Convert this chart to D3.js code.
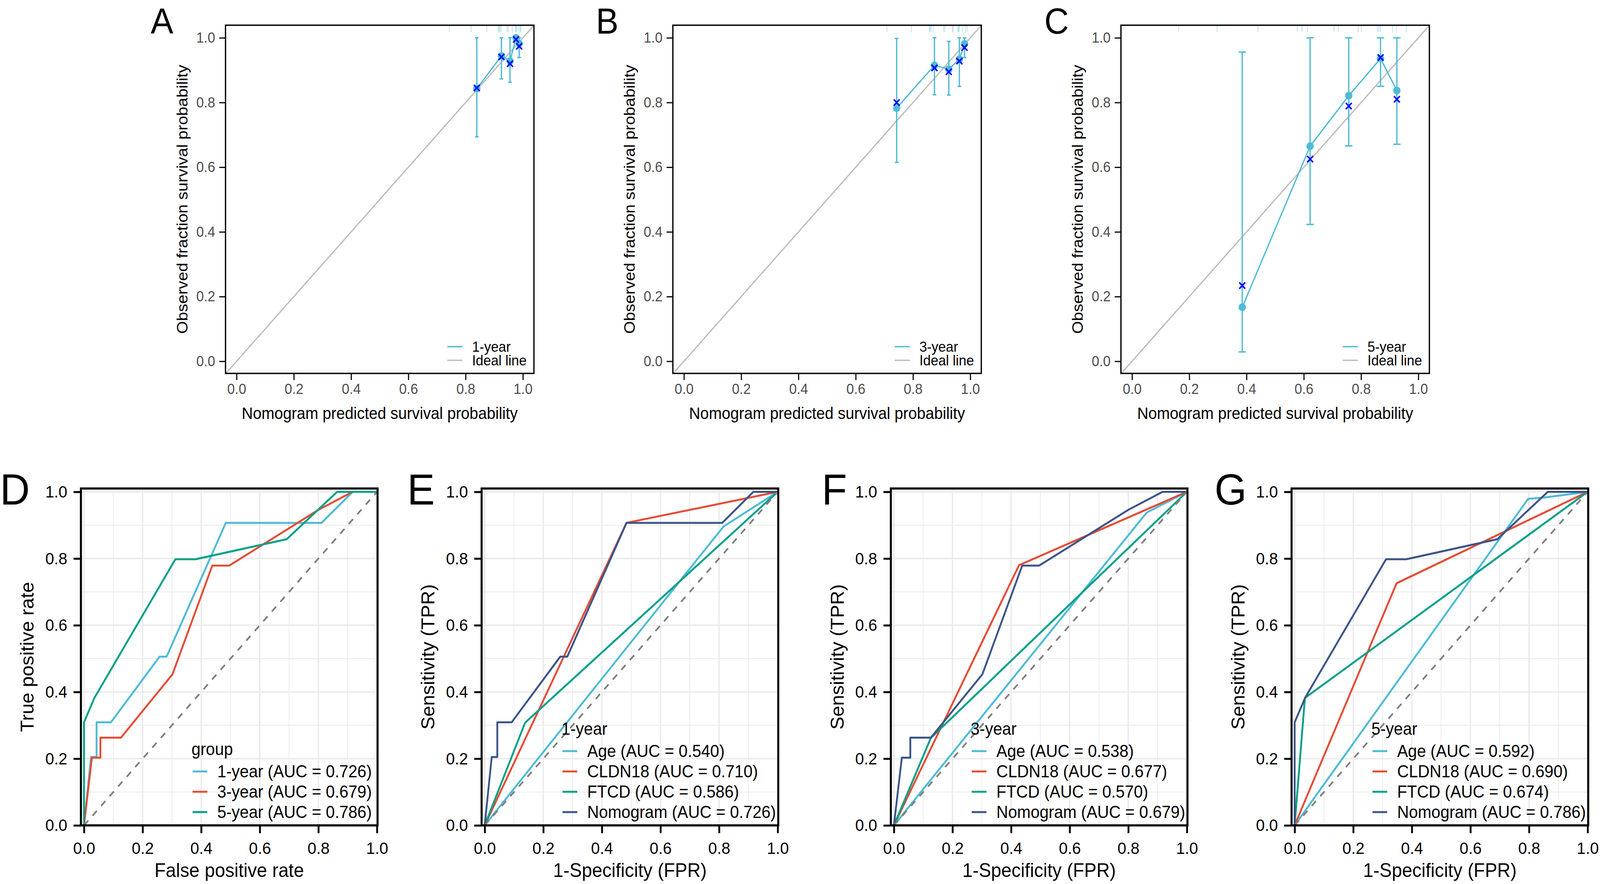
<!DOCTYPE html>
<html>
<head>
<meta charset="utf-8">
<script src="https://cdn.jsdelivr.net/npm/d3@7"></script>
<style>
  html, body { margin: 0; padding: 0; background: #fff; overflow: hidden; }
  #fig { display: block; width: 100vw; height: 100vh; }
  svg text { font-family: "Liberation Sans", Arial, Helvetica, sans-serif; }
</style>
</head>
<body>
<svg id="fig"></svg>
<script>
const width = 4342, height = 2262;

// ---------- calibration data (A, B, C) ----------
const calTicks = [0, 0.2, 0.4, 0.6, 0.8, 1.0];

const cal1Pred = [0.839, 0.925, 0.955, 0.976, 0.987];
const cal1Obs  = [0.843, 0.944, 0.928, 1.000, 0.982];
const cal1Km   = [0.845, 0.941, 0.920, 0.995, 0.974];
const cal1Lo   = [0.694, 0.873, 0.863, 1.000, 0.939];
const cal1Hi   = [1.000, 1.000, 1.000, 1.000, 1.000];
const cal1Rug  = [0.743, 0.819, 0.874, 0.914, 0.917, 0.920, 0.924, 0.945, 0.949,
                  0.963, 0.974, 0.976, 0.979, 0.985, 0.990, 0.993];

const cal3Pred = [0.743, 0.875, 0.925, 0.962, 0.980];
const cal3Obs  = [0.783, 0.915, 0.903, 0.934, 0.981];
const cal3Km   = [0.800, 0.907, 0.895, 0.928, 0.970];
const cal3Lo   = [0.615, 0.824, 0.823, 0.850, 0.939];
const cal3Hi   = [0.998, 1.000, 0.989, 1.000, 1.000];
const cal3Rug  = [0.709, 0.794, 0.857, 0.860, 0.864, 0.870, 0.907, 0.911, 0.937,
                  0.940, 0.957, 0.959, 0.962, 0.974, 0.983, 0.989];

const cal5Pred = [0.385, 0.622, 0.757, 0.868, 0.925];
const cal5Obs  = [0.167, 0.665, 0.821, 0.936, 0.837];
const cal5Km   = [0.234, 0.625, 0.789, 0.939, 0.810];
const cal5Lo   = [0.029, 0.423, 0.666, 0.850, 0.671];
const cal5Hi   = [0.956, 1.000, 1.000, 1.000, 1.000];
const cal5Rug  = [0.163, 0.297, 0.440, 0.577, 0.594, 0.613, 0.705, 0.720, 0.790,
                  0.801, 0.857, 0.862, 0.868, 0.910, 0.923, 0.958];

// ---------- ROC data (D, E, F, G): [FPR, TPR] ----------
const rocTicks = [0, 0.2, 0.4, 0.6, 0.8, 1.0];

const roc1yr = [[0,0],[0.024,0.205],[0.043,0.205],[0.043,0.309],[0.092,0.309],[0.258,0.506],
                [0.282,0.506],[0.484,0.907],[0.811,0.907],[0.917,1],[1,1]];
const roc3yr = [[0,0],[0.027,0.203],[0.056,0.203],[0.056,0.263],[0.126,0.263],[0.302,0.453],
                [0.438,0.779],[0.496,0.779],[0.800,0.946],[0.917,1],[1,1]];
const roc5yr = [[0,0],[0,0.309],[0.036,0.383],[0.312,0.798],[0.381,0.798],[0.692,0.858],
                [0.864,1],[1,1]];

const ageE  = [[0,0],[0.815,0.896],[1,1]];
const cldnE = [[0,0],[0.484,0.907],[1,1]];
const ftcdE = [[0,0],[0.138,0.308],[1,1]];

const ageF  = [[0,0],[0.863,0.938],[1,1]];
const cldnF = [[0,0],[0.427,0.780],[1,1]];
const ftcdF = [[0,0],[0.126,0.262],[1,1]];

const ageG  = [[0,0],[0.797,0.979],[0.853,0.983],[1,1]];
const cldnG = [[0,0],[0.348,0.726],[1,1]];
const ftcdG = [[0,0],[0.035,0.382],[1,1]];

const groupLabels = ["1-year", "3-year", "5-year"];
const groupAuc    = [0.726, 0.679, 0.786];
const markerNames = ["Age", "CLDN18", "FTCD", "Nomogram"];
const aucE = [0.540, 0.710, 0.586, 0.726];
const aucF = [0.538, 0.677, 0.570, 0.679];
const aucG = [0.592, 0.690, 0.674, 0.786];

const npg = ["#4DBBD5", "#E64B35", "#00A087", "#3C5488"];

// drawn in 4342 x 2262 units, stretched to fill the viewport
const svg = d3.select("#fig")
    .attr("viewBox", `0 0 ${width} ${height}`)
    .attr("preserveAspectRatio", "none");

svg.append("rect").attr("width", width).attr("height", height).attr("fill", "#fff");

const fmt = d3.format(".1f");

// ---------- calibration panels ----------
function drawCal(p) {
    const top = 64.5, bottom = 955.5, w = 837;
    const g = svg.append("g");
    const x = d3.scaleLinear().domain([-0.0386, 1.0386]).range([p.left, p.left + w]);
    const y = d3.scaleLinear().domain([-0.0375, 1.039]).range([bottom, top]);

    const clipId = "clip-" + p.letter;
    svg.append("clipPath").attr("id", clipId)
        .append("rect").attr("x", p.left).attr("y", top).attr("width", w).attr("height", bottom - top);

    // ideal line
    g.append("line")
        .attr("clip-path", `url(#${clipId})`)
        .attr("x1", x(-0.05)).attr("y1", y(-0.05))
        .attr("x2", x(1.05)).attr("y2", y(1.05))
        .attr("stroke", "#bebebe").attr("stroke-width", 3.5);

    // rug of predicted values along the top
    g.selectAll(".rug").data(p.rug).join("line")
        .attr("x1", d => x(d)).attr("x2", d => x(d))
        .attr("y1", top).attr("y2", top + 18)
        .attr("stroke", "#a9dcea").attr("stroke-width", 1.6);

    const pts = p.pred.map((d, i) => ({ x: d, obs: p.obs[i], km: p.km[i], lo: p.lo[i], hi: p.hi[i] }));

    // error bars
    const eb = g.selectAll(".eb").data(pts).join("g").attr("stroke", npg[0]).attr("stroke-width", 3.5);
    eb.append("line").attr("x1", d => x(d.x)).attr("x2", d => x(d.x))
        .attr("y1", d => y(d.lo)).attr("y2", d => y(d.hi));
    eb.append("line").attr("x1", d => x(d.x) - p.cap).attr("x2", d => x(d.x) + p.cap)
        .attr("y1", d => y(d.lo)).attr("y2", d => y(d.lo));
    eb.append("line").attr("x1", d => x(d.x) - p.cap).attr("x2", d => x(d.x) + p.cap)
        .attr("y1", d => y(d.hi)).attr("y2", d => y(d.hi));

    g.append("path")
        .attr("d", d3.line().x(d => x(d.x)).y(d => y(d.obs))(pts))
        .attr("fill", "none").attr("stroke", npg[0]).attr("stroke-width", 3.5);

    g.selectAll(".pt").data(pts).join("circle")
        .attr("cx", d => x(d.x)).attr("cy", d => y(d.obs)).attr("r", 10)
        .attr("fill", npg[0]);

    g.selectAll(".km").data(pts).join("path")
        .attr("transform", d => `translate(${x(d.x)},${y(d.km)})`)
        .attr("d", "M-8,-8L8,8M-8,8L8,-8")
        .attr("stroke", "#0000FF").attr("stroke-width", 4).attr("fill", "none");

    // box
    g.append("rect").attr("x", p.left).attr("y", top).attr("width", w).attr("height", bottom - top)
        .attr("fill", "none").attr("stroke", "#000").attr("stroke-width", 3.5);

    // axes
    g.append("g").attr("transform", `translate(0,${bottom})`)
        .call(d3.axisBottom(x).tickValues(calTicks).tickFormat(fmt).tickSize(17).tickPadding(9))
        .call(a => a.select(".domain").remove())
        .call(a => a.selectAll("line").attr("stroke", "#000").attr("stroke-width", 3))
        .call(a => a.selectAll("text").attr("fill", "#4d4d4d").attr("font-size", 37));

    g.append("g").attr("transform", `translate(${p.left},0)`)
        .call(d3.axisLeft(y).tickValues(calTicks).tickFormat(fmt).tickSize(17).tickPadding(11))
        .call(a => a.select(".domain").remove())
        .call(a => a.selectAll("line").attr("stroke", "#000").attr("stroke-width", 3))
        .call(a => a.selectAll("text").attr("fill", "#4d4d4d").attr("font-size", 37));

    g.append("text")
        .attr("x", p.left + w / 2).attr("y", 1072)
        .attr("text-anchor", "middle").attr("font-size", 42)
        .text("Nomogram predicted survival probability");

    g.append("text")
        .attr("transform", `translate(${p.left - 103},${(top + bottom) / 2}) rotate(-90)`)
        .attr("text-anchor", "middle").attr("font-size", 42)
        .text("Observed fraction survival probability");

    // legend
    const leg = [{ label: p.label, color: npg[0] }, { label: "Ideal line", color: "#bebebe" }];
    leg.forEach((d, i) => {
        const cy = 887 + i * 35;
        g.append("line").attr("x1", p.left + 602).attr("x2", p.left + 643)
            .attr("y1", cy).attr("y2", cy).attr("stroke", d.color).attr("stroke-width", 3.5);
        g.append("text").attr("x", p.left + 669).attr("y", cy).attr("dy", "0.35em")
            .attr("font-size", 37).text(d.label);
    });

    svg.append("text").attr("x", p.letterX).attr("y", 86)
        .attr("font-size", 92).text(p.letter);
}

drawCal({ letter: "A", letterX: 409, left: 612, label: "1-year", cap: 5,
          pred: cal1Pred, obs: cal1Obs, km: cal1Km, lo: cal1Lo, hi: cal1Hi, rug: cal1Rug });
drawCal({ letter: "B", letterX: 1617, left: 1826, label: "3-year", cap: 5,
          pred: cal3Pred, obs: cal3Obs, km: cal3Km, lo: cal3Lo, hi: cal3Hi, rug: cal3Rug });
drawCal({ letter: "C", letterX: 2834, left: 3042, label: "5-year", cap: 10,
          pred: cal5Pred, obs: cal5Obs, km: cal5Km, lo: cal5Lo, hi: cal5Hi, rug: cal5Rug });

// ---------- ROC panels ----------
function drawRoc(p) {
    const top = 1250, bottom = 2112, w = 805;
    const g = svg.append("g");
    const x = d3.scaleLinear().domain([-0.0105, 1.002]).range([p.left, p.left + w]);
    const y = d3.scaleLinear().domain([0, 1.01]).range([bottom, top]);

    // grid
    const grid = d3.range(0, 11).map(i => i / 10);
    g.selectAll(".gx").data(grid).join("line")
        .attr("x1", d => x(d)).attr("x2", d => x(d)).attr("y1", top).attr("y2", bottom)
        .attr("stroke", "#ebebeb").attr("stroke-width", (d, i) => i % 2 ? 2 : 3.8);
    g.selectAll(".gy").data(grid).join("line")
        .attr("y1", d => y(d)).attr("y2", d => y(d)).attr("x1", p.left).attr("x2", p.left + w)
        .attr("stroke", "#ebebeb").attr("stroke-width", (d, i) => i % 2 ? 2 : 3.8);

    const line = d3.line().x(d => x(d[0])).y(d => y(d[1]));
    p.curves.forEach((c, i) => {
        g.append("path").attr("d", line(c)).attr("fill", "none")
            .attr("stroke", p.colors[i]).attr("stroke-width", 5)
            .attr("stroke-linejoin", "round");
    });

    g.append("line")
        .attr("x1", x(0)).attr("y1", y(0)).attr("x2", x(1)).attr("y2", y(1))
        .attr("stroke", "#7f7f7f").attr("stroke-width", 4.5).attr("stroke-dasharray", "17,17");

    g.append("rect").attr("x", p.left).attr("y", top).attr("width", w).attr("height", bottom - top)
        .attr("fill", "none").attr("stroke", "#000").attr("stroke-width", 5.5);

    g.append("g").attr("transform", `translate(0,${bottom})`)
        .call(d3.axisBottom(x).tickValues(rocTicks).tickFormat(fmt).tickSize(20).tickPadding(22))
        .call(a => a.select(".domain").remove())
        .call(a => a.selectAll("line").attr("stroke", "#000").attr("stroke-width", 5))
        .call(a => a.selectAll("text").attr("fill", "#000").attr("font-size", 43));

    g.append("g").attr("transform", `translate(${p.left},0)`)
        .call(d3.axisLeft(y).tickValues(rocTicks).tickFormat(fmt).tickSize(20).tickPadding(17))
        .call(a => a.select(".domain").remove())
        .call(a => a.selectAll("line").attr("stroke", "#000").attr("stroke-width", 5))
        .call(a => a.selectAll("text").attr("fill", "#000").attr("font-size", 43));

    g.append("text")
        .attr("x", p.left + w / 2).attr("y", 2244)
        .attr("text-anchor", "middle").attr("font-size", 50)
        .text(p.xTitle);

    g.append("text")
        .attr("transform", `translate(${p.left - 128},${(top + bottom) / 2}) rotate(-90)`)
        .attr("text-anchor", "middle").attr("font-size", 50)
        .text(p.yTitle);

    // legend, bottom aligned
    const keyX = p.left + p.legendOffset;
    const n = p.labels.length;
    p.labels.forEach((lab, i) => {
        const cy = 2078 - (n - 1 - i) * 52;
        g.append("line").attr("x1", keyX).attr("x2", keyX + 40)
            .attr("y1", cy).attr("y2", cy).attr("stroke", p.colors[i]).attr("stroke-width", 5);
        g.append("text").attr("x", keyX + 67).attr("y", cy).attr("dy", "0.35em")
            .attr("font-size", 44).text(lab);
    });
    g.append("text").attr("x", keyX - 3).attr("y", 2078 - (n - 1) * 52 - 42)
        .attr("font-size", 44).text(p.legendTitle);

    svg.append("text").attr("x", p.letterX).attr("y", 1291)
        .attr("font-size", 112).text(p.letter);
}

const aucLabel = (name, auc) => `${name} (AUC = ${auc.toFixed(3)})`;

drawRoc({ letter: "D", letterX: 0, left: 219.6, legendOffset: 303,
          curves: [roc1yr, roc3yr, roc5yr], colors: [npg[0], npg[1], npg[2]],
          labels: groupLabels.map((d, i) => aucLabel(d, groupAuc[i])), legendTitle: "group",
          xTitle: "False positive rate", yTitle: "True positive rate" });
drawRoc({ letter: "E", letterX: 1105, left: 1307, legendOffset: 219.5,
          curves: [ageE, cldnE, ftcdE, roc1yr], colors: npg,
          labels: markerNames.map((d, i) => aucLabel(d, aucE[i])), legendTitle: "1-year",
          xTitle: "1-Specificity (FPR)", yTitle: "Sensitivity (TPR)" });
drawRoc({ letter: "F", letterX: 2230, left: 2417.5, legendOffset: 219.5,
          curves: [ageF, cldnF, ftcdF, roc3yr], colors: npg,
          labels: markerNames.map((d, i) => aucLabel(d, aucF[i])), legendTitle: "3-year",
          xTitle: "1-Specificity (FPR)", yTitle: "Sensitivity (TPR)" });
drawRoc({ letter: "G", letterX: 3296, left: 3505, legendOffset: 219.5,
          curves: [ageG, cldnG, ftcdG, roc5yr], colors: npg,
          labels: markerNames.map((d, i) => aucLabel(d, aucG[i])), legendTitle: "5-year",
          xTitle: "1-Specificity (FPR)", yTitle: "Sensitivity (TPR)" });
</script>
</body>
</html>
